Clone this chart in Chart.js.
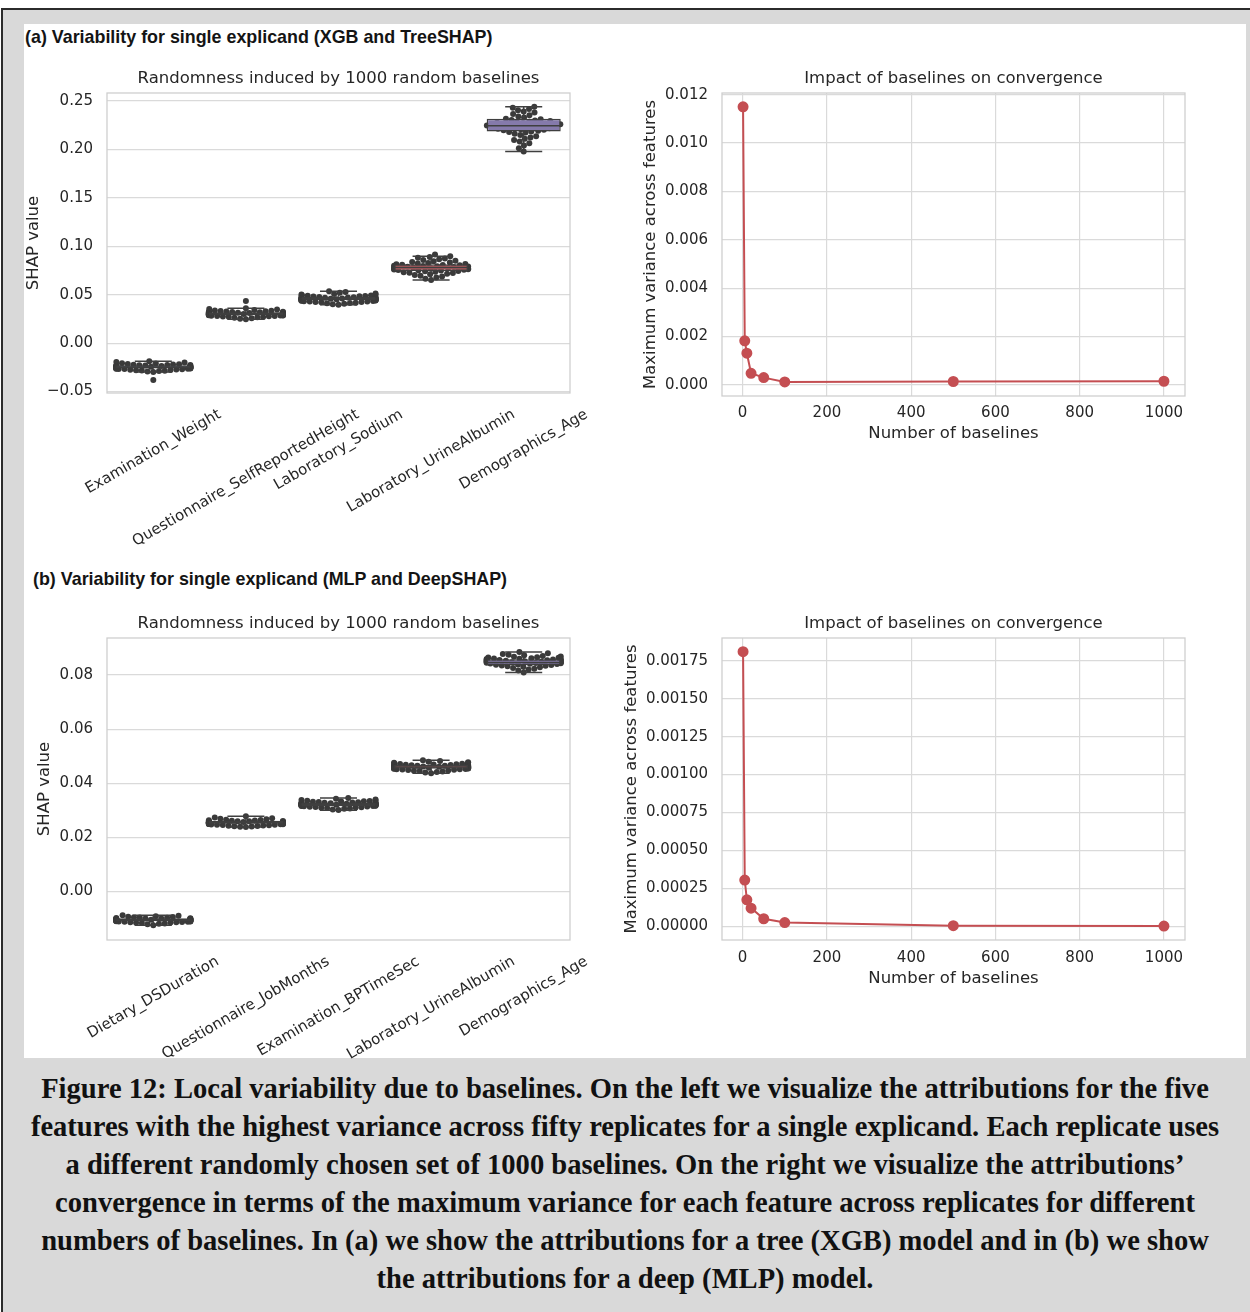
<!DOCTYPE html>
<html>
<head>
<meta charset="utf-8">
<script src="https://cdn.jsdelivr.net/npm/chart.js@4.4.1/dist/chart.umd.min.js"></script>
<style>
html, body { margin: 0; padding: 0; background: #fff; }
#page { position: relative; width: 1250px; height: 1312px; overflow: hidden; background: #fff; }
#frame { position: absolute; left: 1px; top: 8px; width: 1249px; height: 1304px; background: #d9d9d9;
         border-left: 2px solid #2b2b2b; border-top: 2px solid #2b2b2b; box-sizing: border-box; }
#panel { position: absolute; left: 24px; top: 24px; width: 1222px; height: 1034px; background: #fff; }
.head { position: absolute; font-family: "Liberation Sans", sans-serif; font-weight: bold;
        font-size: 19px; line-height: 20px; color: #141414; white-space: nowrap;
        transform: scaleX(0.94); transform-origin: 0 0; }
canvas { position: absolute; }
#caption { position: absolute; left: 0; top: 1069px; width: 1250px; text-align: center;
           font-family: "Liberation Serif", serif; font-weight: bold; font-size: 29px; line-height: 38px; color: #111;
           transform: scaleX(0.985); transform-origin: 625px 0; white-space: nowrap; }
</style>
</head>
<body>
<div id="page">
  <div id="frame"></div>
  <div id="panel"></div>
  <div class="head" style="left:25px; top:27px;">(a) Variability for single explicand (XGB and TreeSHAP)</div>
  <div class="head" style="left:33px; top:569px;">(b) Variability for single explicand (MLP and DeepSHAP)</div>
  <canvas id="boxA" width="580" height="505" style="left:24px; top:55px;"></canvas>
  <canvas id="lineA" width="600" height="400" style="left:620px; top:55px;"></canvas>
  <canvas id="boxB" width="580" height="470" style="left:24px; top:590px;"></canvas>
  <canvas id="lineB" width="600" height="410" style="left:620px; top:590px;"></canvas>
  <div id="caption">Figure 12: Local variability due to baselines. On the left we visualize the attributions for the five<br>features with the highest variance across fifty replicates for a single explicand. Each replicate uses<br>a different randomly chosen set of 1000 baselines. On the right we visualize the attributions’<br>convergence in terms of the maximum variance for each feature across replicates for different<br>numbers of baselines. In (a) we show the attributions for a tree (XGB) model and in (b) we show<br>the attributions for a deep (MLP) model.</div>
</div>
<script>
// ---- categories ----
const featuresA = ['Examination_Weight', 'Questionnaire_SelfReportedHeight', 'Laboratory_Sodium', 'Laboratory_UrineAlbumin', 'Demographics_Age'];
const featuresB = ['Dietary_DSDuration', 'Questionnaire_JobMonths', 'Examination_BPTimeSec', 'Laboratory_UrineAlbumin', 'Demographics_Age'];

// ---- (a) XGB / TreeSHAP: box statistics ----
const whiskLoA = [-0.0299, 0.0246, 0.0396, 0.0652, 0.1979];
const q1A      = [-0.0262, 0.0289, 0.0445, 0.0745, 0.2186];
const medianA  = [-0.0246, 0.0305, 0.0460, 0.0782, 0.2245];
const q3A      = [-0.0228, 0.0320, 0.0478, 0.0815, 0.2318];
const whiskHiA = [-0.0187, 0.0361, 0.0536, 0.0897, 0.2442];

// ---- (a) fifty replicates per feature ----
const examWeight = [-0.0187, -0.0196, -0.0201, -0.0209, -0.0211, -0.0216, -0.0219, -0.0221, -0.0222, -0.0225,
  -0.0227, -0.0228, -0.0231, -0.0232, -0.0234, -0.0235, -0.0237, -0.0239, -0.0240, -0.0242,
  -0.0243, -0.0244, -0.0246, -0.0246, -0.0248, -0.0249, -0.0251, -0.0252, -0.0253, -0.0255,
  -0.0256, -0.0258, -0.0259, -0.0261, -0.0262, -0.0264, -0.0265, -0.0267, -0.0268, -0.0270,
  -0.0272, -0.0274, -0.0277, -0.0279, -0.0282, -0.0285, -0.0289, -0.0293, -0.0299, -0.0381];
const selfHeight = [0.0436, 0.0361, 0.0352, 0.0346, 0.0341, 0.0337, 0.0334, 0.0331, 0.0329, 0.0327,
  0.0325, 0.0323, 0.0321, 0.0320, 0.0318, 0.0316, 0.0315, 0.0313, 0.0312, 0.0310,
  0.0309, 0.0308, 0.0306, 0.0305, 0.0304, 0.0302, 0.0301, 0.0299, 0.0298, 0.0297,
  0.0295, 0.0294, 0.0292, 0.0291, 0.0289, 0.0288, 0.0286, 0.0285, 0.0283, 0.0281,
  0.0279, 0.0277, 0.0275, 0.0272, 0.0269, 0.0266, 0.0262, 0.0257, 0.0251, 0.0246];
const labSodium = [0.0536, 0.0528, 0.0519, 0.0513, 0.0507, 0.0503, 0.0499, 0.0495, 0.0492, 0.0489,
  0.0486, 0.0484, 0.0481, 0.0479, 0.0477, 0.0475, 0.0473, 0.0471, 0.0469, 0.0467,
  0.0465, 0.0463, 0.0462, 0.0460, 0.0458, 0.0457, 0.0455, 0.0453, 0.0452, 0.0450,
  0.0448, 0.0446, 0.0445, 0.0443, 0.0441, 0.0439, 0.0437, 0.0435, 0.0433, 0.0431,
  0.0429, 0.0426, 0.0424, 0.0421, 0.0418, 0.0415, 0.0411, 0.0406, 0.0401, 0.0396];
const urineAlbA = [0.0915, 0.0897, 0.0889, 0.0882, 0.0874, 0.0866, 0.0859, 0.0851, 0.0845, 0.0839,
  0.0833, 0.0827, 0.0822, 0.0818, 0.0814, 0.0810, 0.0806, 0.0803, 0.0800, 0.0797,
  0.0794, 0.0791, 0.0788, 0.0785, 0.0782, 0.0779, 0.0776, 0.0773, 0.0770, 0.0767,
  0.0764, 0.0761, 0.0758, 0.0755, 0.0752, 0.0749, 0.0745, 0.0741, 0.0737, 0.0733,
  0.0728, 0.0723, 0.0717, 0.0711, 0.0704, 0.0696, 0.0687, 0.0677, 0.0664, 0.0652];
const ageA = [0.2442, 0.2431, 0.2417, 0.2405, 0.2393, 0.2381, 0.2366, 0.2352, 0.2341, 0.2329,
  0.2318, 0.2311, 0.2305, 0.2299, 0.2293, 0.2287, 0.2281, 0.2276, 0.2271, 0.2266,
  0.2261, 0.2257, 0.2252, 0.2248, 0.2244, 0.2240, 0.2236, 0.2232, 0.2227, 0.2223,
  0.2219, 0.2214, 0.2209, 0.2204, 0.2198, 0.2192, 0.2186, 0.2180, 0.2174, 0.2163,
  0.2149, 0.2136, 0.2124, 0.2111, 0.2097, 0.2082, 0.2064, 0.2041, 0.2012, 0.1979];

// ---- (b) MLP / DeepSHAP: box statistics ----
const whiskLoB = [-0.0125, 0.0238, 0.0300, 0.0437, 0.0809];
const q1B      = [-0.0111, 0.0250, 0.0315, 0.0453, 0.0836];
const medianB  = [-0.0106, 0.0255, 0.0322, 0.0460, 0.0846];
const q3B      = [-0.0100, 0.0261, 0.0329, 0.0468, 0.0858];
const whiskHiB = [-0.0088, 0.0278, 0.0345, 0.0485, 0.0885];

// ---- (b) fifty replicates per feature ----
const dsDuration = [-0.00880, -0.00905, -0.00925, -0.00940, -0.00952, -0.00963, -0.00972, -0.00980, -0.00988, -0.00995,
  -0.01001, -0.01007, -0.01012, -0.01017, -0.01022, -0.01026, -0.01031, -0.01035, -0.01039, -0.01043,
  -0.01047, -0.01051, -0.01055, -0.01059, -0.01063, -0.01067, -0.01071, -0.01075, -0.01079, -0.01083,
  -0.01087, -0.01091, -0.01095, -0.01099, -0.01104, -0.01108, -0.01113, -0.01118, -0.01123, -0.01129,
  -0.01135, -0.01141, -0.01148, -0.01156, -0.01165, -0.01175, -0.01187, -0.01202, -0.01222, -0.01250];
const jobMonths = [0.02780, 0.02735, 0.02705, 0.02682, 0.02664, 0.02650, 0.02638, 0.02627, 0.02618, 0.02610,
  0.02603, 0.02596, 0.02590, 0.02584, 0.02578, 0.02573, 0.02568, 0.02563, 0.02559, 0.02555,
  0.02551, 0.02547, 0.02543, 0.02539, 0.02535, 0.02531, 0.02527, 0.02523, 0.02519, 0.02515,
  0.02511, 0.02507, 0.02503, 0.02498, 0.02494, 0.02489, 0.02484, 0.02479, 0.02473, 0.02467,
  0.02461, 0.02454, 0.02447, 0.02439, 0.02430, 0.02420, 0.02409, 0.02396, 0.02385, 0.02375];
const bpTimeSec = [0.03450, 0.03420, 0.03398, 0.03380, 0.03365, 0.03352, 0.03341, 0.03331, 0.03322, 0.03313,
  0.03305, 0.03298, 0.03291, 0.03284, 0.03278, 0.03272, 0.03266, 0.03260, 0.03254, 0.03249,
  0.03244, 0.03239, 0.03234, 0.03229, 0.03224, 0.03219, 0.03214, 0.03209, 0.03204, 0.03199,
  0.03194, 0.03188, 0.03183, 0.03177, 0.03171, 0.03165, 0.03159, 0.03152, 0.03145, 0.03138,
  0.03130, 0.03122, 0.03113, 0.03103, 0.03092, 0.03080, 0.03066, 0.03050, 0.03030, 0.03005];
const urineAlbB = [0.04850, 0.04820, 0.04795, 0.04775, 0.04758, 0.04744, 0.04731, 0.04720, 0.04710, 0.04701,
  0.04692, 0.04684, 0.04676, 0.04669, 0.04662, 0.04655, 0.04649, 0.04643, 0.04637, 0.04631,
  0.04625, 0.04619, 0.04614, 0.04608, 0.04603, 0.04597, 0.04592, 0.04586, 0.04581, 0.04575,
  0.04570, 0.04564, 0.04558, 0.04552, 0.04546, 0.04540, 0.04533, 0.04526, 0.04519, 0.04511,
  0.04503, 0.04494, 0.04484, 0.04473, 0.04461, 0.04447, 0.04431, 0.04412, 0.04392, 0.04372];
const ageB = [0.08850, 0.08810, 0.08780, 0.08752, 0.08728, 0.08708, 0.08690, 0.08674, 0.08660, 0.08647,
  0.08635, 0.08624, 0.08613, 0.08603, 0.08594, 0.08585, 0.08576, 0.08568, 0.08560, 0.08552,
  0.08544, 0.08536, 0.08528, 0.08520, 0.08512, 0.08504, 0.08496, 0.08488, 0.08480, 0.08472,
  0.08463, 0.08454, 0.08445, 0.08436, 0.08426, 0.08416, 0.08405, 0.08393, 0.08381, 0.08368,
  0.08354, 0.08339, 0.08322, 0.08304, 0.08284, 0.08262, 0.08237, 0.08208, 0.08170, 0.08090];

// ---- convergence curves ----
const numBaselines = [1, 5, 10, 20, 50, 100, 500, 1000];
const maxVarA = [0.01150, 0.00182, 0.00131, 0.00048, 0.00030, 0.00012, 0.00014, 0.00015];
const maxVarB = [0.00181, 0.000305, 0.000175, 0.000120, 0.000050, 0.000025, 0.000004, 0.000002];

// ---- tick labels ----
const yTicksBoxA = [-0.05, 0, 0.05, 0.10, 0.15, 0.20, 0.25];
const yTicksBoxB = [0, 0.02, 0.04, 0.06, 0.08];
const xTicksLine = [0, 200, 400, 600, 800, 1000];
const yTicksLineA = [0, 0.002, 0.004, 0.006, 0.008, 0.010, 0.012];
const yTicksLineB = [0, 0.00025, 0.0005, 0.00075, 0.001, 0.00125, 0.0015, 0.00175];

const boxColors = ['#5975a4', '#cc8963', '#5f9e6e', '#b55d60', '#857aab'];
const RED = '#c44e52';
const GRID = '#dadada';
const INK = '#262626';

Chart.defaults.font.family = "'DejaVu Sans', sans-serif";
Chart.defaults.font.size = 15;
Chart.defaults.color = INK;

const fixWidth = w => scale => { scale.width = w; scale.paddingTop = 0; scale.paddingBottom = 0; };
const fixHeight = h => scale => { scale.height = h; scale.paddingLeft = 0; scale.paddingRight = 0; };
const useTicks = values => scale => { scale.ticks = values.map(v => ({value: v})); };

// frame around the axes, like the seaborn whitegrid spines
const axesFrame = {
    id: 'axesFrame',
    beforeDatasetsDraw(chart) {
        const {ctx, chartArea: a} = chart;
        ctx.save();
        ctx.strokeStyle = '#cfcfcf';
        ctx.lineWidth = 1.3;
        ctx.strokeRect(a.left, a.top, a.right - a.left, a.bottom - a.top);
        ctx.restore();
    }
};

// whiskers, caps and median lines on top of the box bars
const boxWhiskers = {
    id: 'boxWhiskers',
    afterDatasetDraw(chart, args, opts) {
        if (args.index !== 0) return;
        const {ctx} = chart;
        const ys = chart.scales.y;
        const line = (x1, y1, x2, y2) => { ctx.beginPath(); ctx.moveTo(x1, y1); ctx.lineTo(x2, y2); ctx.stroke(); };
        ctx.save();
        ctx.strokeStyle = '#3f3f3f';
        ctx.lineWidth = 1.5;
        chart.getDatasetMeta(0).data.forEach((bar, i) => {
            const half = bar.width / 2;
            const lo = ys.getPixelForValue(opts.lo[i]);
            const hi = ys.getPixelForValue(opts.hi[i]);
            const med = ys.getPixelForValue(opts.median[i]);
            line(bar.x, ys.getPixelForValue(opts.q3[i]), bar.x, hi);
            line(bar.x, ys.getPixelForValue(opts.q1[i]), bar.x, lo);
            line(bar.x - half / 2, hi, bar.x + half / 2, hi);
            line(bar.x - half / 2, lo, bar.x + half / 2, lo);
            line(bar.x - half, med, bar.x + half, med);
        });
        ctx.restore();
    }
};

// matplotlib-style rotated category labels, centred under the tick
const rotatedLabels = {
    id: 'rotatedLabels',
    afterDraw(chart, args, opts) {
        const {ctx, chartArea} = chart;
        const xs = chart.scales.x;
        const a = opts.angle * Math.PI / 180;
        ctx.save();
        ctx.font = "15px 'DejaVu Sans'";
        ctx.fillStyle = INK;
        ctx.textAlign = 'center';
        ctx.textBaseline = 'middle';
        opts.labels.forEach((label, i) => {
            const w = ctx.measureText(label).width;
            const h = w * Math.sin(a) + 15 * Math.cos(a);
            ctx.save();
            ctx.translate(xs.getPixelForValue(i), chartArea.bottom + opts.pad + h / 2);
            ctx.rotate(-a);
            ctx.fillText(label, 0, 0);
            ctx.restore();
        });
        ctx.restore();
    }
};

// beeswarm offsets (in category units), points that do not fit go to the gutter
function swarmOffsets(values, pxPerY, pxPerCat, diameter, gutter) {
    const order = values.map((v, i) => i).sort((a, b) => values[a] - values[b]);
    const placed = [];
    const out = new Array(values.length);
    order.forEach(i => {
        const y = values[i] * pxPerY;
        const near = placed.filter(p => Math.abs(p.y - y) < diameter);
        const cands = [0];
        near.forEach(p => {
            const dx = Math.sqrt(diameter * diameter - (p.y - y) * (p.y - y));
            cands.push(p.x - dx, p.x + dx);
        });
        cands.sort((a, b) => Math.abs(a) - Math.abs(b));
        const x = cands.find(c => near.every(p => (p.x - c) ** 2 + (p.y - y) ** 2 >= diameter * diameter - 1e-6));
        placed.push({x, y});
        out[i] = Math.max(-gutter, Math.min(gutter, x)) / pxPerCat;
    });
    return out;
}

const titleFont = {size: 16.5, weight: 'normal'};

function boxChart(id, g) {
    const pxPerCat = g.plotWidth / g.labels.length;
    const pxPerY = g.plotHeight / (g.yMax - g.yMin);
    const points = [];
    g.replicates.forEach((vals, i) => {
        const offs = swarmOffsets(vals, pxPerY, pxPerCat, 5.8, 0.4 * pxPerCat);
        vals.forEach((v, j) => points.push({x: i + offs[j], y: v}));
    });
    new Chart(document.getElementById(id), {
        type: 'bar',
        data: {
            datasets: [{
                data: g.q1.map((q, i) => ({x: i, y: [q, g.q3[i]]})),
                backgroundColor: boxColors,
                borderColor: '#3f3f3f',
                borderWidth: 1.5,
                borderSkipped: false,
                categoryPercentage: 1,
                barPercentage: 0.8
            }, {
                type: 'scatter',
                data: points,
                pointRadius: 3,
                pointBackgroundColor: '#3a3a3a',
                pointBorderWidth: 0
            }]
        },
        options: {
            responsive: false,
            animation: false,
            events: [],
            layout: {padding: {left: 0, top: 0, right: 34, bottom: 0}},
            plugins: {
                legend: {display: false},
                tooltip: {enabled: false},
                title: {display: true, text: 'Randomness induced by 1000 random baselines', font: titleFont,
                        color: INK, fullSize: false, padding: g.titlePad},
                boxWhiskers: {lo: g.lo, q1: g.q1, median: g.median, q3: g.q3, hi: g.hi},
                rotatedLabels: {labels: g.labels, angle: 30, pad: 14}
            },
            scales: {
                x: {
                    type: 'linear', min: -0.5, max: g.labels.length - 0.5, offset: false,
                    ticks: {display: false}, grid: {display: false}, border: {display: false},
                    afterBuildTicks: useTicks(g.labels.map((l, i) => i)),
                    afterFit: fixHeight(g.xHeight)
                },
                y: {
                    min: g.yMin, max: g.yMax,
                    grid: {color: GRID, lineWidth: 1.2, drawTicks: false},
                    border: {display: false},
                    ticks: {padding: 14, callback: v => (v < 0 ? '\u2212' : '') + Math.abs(v).toFixed(2)},
                    title: {display: true, text: 'SHAP value', font: titleFont, color: INK, padding: {top: g.yTitlePad, bottom: 0}},
                    afterBuildTicks: useTicks(g.yTicks),
                    afterFit: fixWidth(83)
                }
            }
        },
        plugins: [axesFrame, boxWhiskers, rotatedLabels]
    });
}

function lineChart(id, g) {
    new Chart(document.getElementById(id), {
        type: 'line',
        data: {
            datasets: [{
                data: numBaselines.map((n, i) => ({x: n, y: g.values[i]})),
                borderColor: RED,
                backgroundColor: RED,
                pointBackgroundColor: RED,
                pointBorderColor: RED,
                pointRadius: 4.5,
                borderWidth: 2,
                tension: 0
            }]
        },
        options: {
            responsive: false,
            animation: false,
            events: [],
            layout: {padding: {left: 0, top: 0, right: 35, bottom: 11}},
            plugins: {
                legend: {display: false},
                tooltip: {enabled: false},
                title: {display: true, text: 'Impact of baselines on convergence', font: titleFont,
                        color: INK, fullSize: false, padding: g.titlePad}
            },
            scales: {
                x: {
                    type: 'linear', min: -49, max: 1050,
                    grid: {color: GRID, lineWidth: 1.2, drawTicks: false},
                    border: {display: false},
                    ticks: {padding: g.xTickPad, callback: v => String(v)},
                    title: {display: true, text: 'Number of baselines', font: titleFont, color: INK, padding: 0},
                    afterBuildTicks: useTicks(xTicksLine),
                    afterFit: fixHeight(g.xHeight)
                },
                y: {
                    min: g.yMin, max: g.yMax,
                    grid: {color: GRID, lineWidth: 1.2, drawTicks: false},
                    border: {display: false},
                    ticks: {padding: 14, callback: v => v.toFixed(g.decimals)},
                    title: {display: true, text: 'Maximum variance across features', font: titleFont, color: INK,
                            padding: {top: g.yTitlePad, bottom: 0}},
                    afterBuildTicks: useTicks(g.yTicks),
                    afterFit: fixWidth(102)
                }
            }
        },
        plugins: [axesFrame]
    });
}

boxChart('boxA', {
    labels: featuresA,
    replicates: [examWeight, selfHeight, labSodium, urineAlbA, ageA],
    lo: whiskLoA, q1: q1A, median: medianA, q3: q3A, hi: whiskHiA,
    yMin: -0.0515, yMax: 0.2583, yTicks: yTicksBoxA,
    plotWidth: 463, plotHeight: 300,
    titlePad: {top: 14.1, bottom: 4.1}, yTitlePad: 0, xHeight: 167
});

boxChart('boxB', {
    labels: featuresB,
    replicates: [dsDuration, jobMonths, bpTimeSec, urineAlbB, ageB],
    lo: whiskLoB, q1: q1B, median: medianB, q3: q3B, hi: whiskHiB,
    yMin: -0.0180, yMax: 0.0937, yTicks: yTicksBoxB,
    plotWidth: 463, plotHeight: 302,
    titlePad: {top: 24.1, bottom: 4.1}, yTitlePad: 11, xHeight: 120
});

lineChart('lineA', {
    values: maxVarA, yMin: -0.00046, yMax: 0.01207, yTicks: yTicksLineA, decimals: 3,
    titlePad: {top: 14.1, bottom: 4.1}, yTitlePad: 21, xHeight: 48, xTickPad: 8
});

lineChart('lineB', {
    values: maxVarB, yMin: -0.00009, yMax: 0.0019, yTicks: yTicksLineB, decimals: 5,
    titlePad: {top: 24.1, bottom: 4.1}, yTitlePad: 2, xHeight: 49, xTickPad: 9
});
</script>
</body>
</html>
